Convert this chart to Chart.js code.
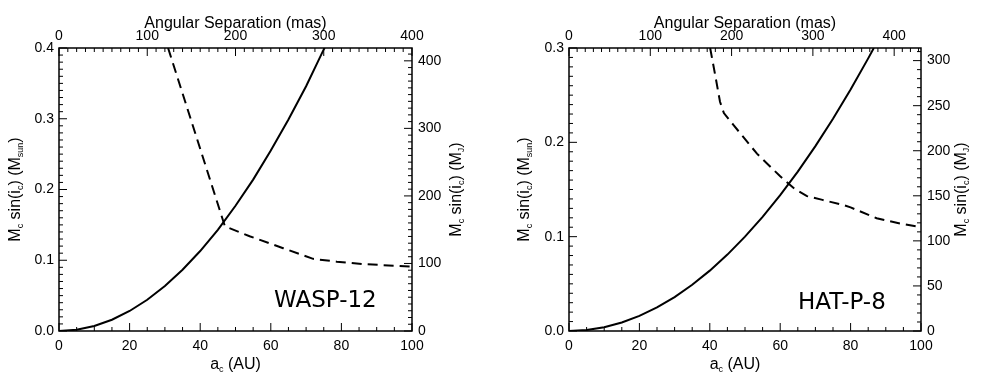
<!DOCTYPE html>
<html>
<head>
<meta charset="utf-8">
<script src="https://cdn.jsdelivr.net/npm/chart.js@4/dist/chart.umd.min.js"></script>
<style>
  body { margin: 0; background: #fff; }
  #wrap { position: relative; width: 982px; height: 388px; }
  canvas { position: absolute; top: 0; }
</style>
</head>
<body>
<div id="wrap">
  <canvas id="cWasp" width="491" height="388" style="left:0"></canvas>
  <canvas id="cHat" width="491" height="388" style="left:491px"></canvas>
</div>
<script>
// WASP-12 : solid = mass limit, dashed = detection limit
const waspSolidAu   = [0, 5, 10, 15, 20, 25, 30, 35, 40, 45, 50, 55, 60, 65, 70, 75, 75.3];
const waspSolidMass = [0, 0.0018, 0.0071, 0.0159, 0.0283, 0.0442, 0.0636, 0.0866, 0.113, 0.143, 0.177, 0.214, 0.255, 0.299, 0.346, 0.398, 0.40];
const waspDashAu    = [30.9, 47.0, 54.0, 63.5, 72.0, 78.7, 86.0, 100];
const waspDashMass  = [0.40, 0.148, 0.134, 0.117, 0.102, 0.098, 0.0946, 0.091];

// HAT-P-8
const hatSolidAu   = [0, 5, 10, 15, 20, 25, 30, 35, 40, 45, 50, 55, 60, 65, 70, 75, 80, 85, 86.6];
const hatSolidMass = [0, 0.001, 0.004, 0.009, 0.016, 0.025, 0.036, 0.049, 0.064, 0.081, 0.100, 0.121, 0.144, 0.169, 0.196, 0.225, 0.256, 0.289, 0.30];
const hatDashAu    = [40.1, 41.6, 42.9, 44.0, 46.7, 53.4, 60.0, 64.0, 67.6, 72.0, 78.0, 80.0, 87.4, 94.0, 100];
const hatDashMass  = [0.30, 0.27, 0.243, 0.231, 0.2185, 0.188, 0.164, 0.151, 0.143, 0.139, 0.1335, 0.131, 0.1195, 0.114, 0.110];

// tick labels
const waspAuTicks   = [0, 20, 40, 60, 80, 100];
const waspMasTicks  = [0, 100, 200, 300, 400];
const waspMsunTicks = [0, 0.1, 0.2, 0.3, 0.4];
const waspMjTicks   = [0, 100, 200, 300, 400];
const hatAuTicks    = [0, 20, 40, 60, 80, 100];
const hatMasTicks   = [0, 100, 200, 300, 400];
const hatMsunTicks  = [0, 0.1, 0.2, 0.3];
const hatMjTicks    = [0, 50, 100, 150, 200, 250, 300];

const FONT = '"Liberation Sans", Arial, sans-serif';

function pts(xs, ys) {
  return xs.map((x, i) => ({ x: x, y: ys[i] }));
}

// text with subscripts, parts = [[text, isSub], ...]
function drawSubText(ctx, parts, x, y, rotate) {
  const big = '16px ' + FONT, small = '9px ' + FONT;
  let w = 0;
  parts.forEach(([t, sub]) => { ctx.font = sub ? small : big; w += ctx.measureText(t).width; });
  ctx.save();
  ctx.translate(x, y);
  if (rotate) ctx.rotate(-Math.PI / 2);
  ctx.fillStyle = '#000';
  ctx.textAlign = 'left';
  ctx.textBaseline = 'alphabetic';
  let cx = -w / 2;
  parts.forEach(([t, sub]) => {
    ctx.font = sub ? small : big;
    ctx.fillText(t, cx, sub ? 3 : 0);
    cx += ctx.measureText(t).width;
  });
  ctx.restore();
}

const yTitleSun = [['M', 0], ['c', 1], [' sin(i', 0], ['c', 1], [') (M', 0], ['sun', 1], [')', 0]];
const yTitleJ   = [['M', 0], ['c', 1], [' sin(i', 0], ['c', 1], [') (M', 0], ['J', 1], [')', 0]];
const xTitle    = [['a', 0], ['c', 1], [' (AU)', 0]];

function makePanel(id, p) {
  // minor / major steps of the inward ticks
  const tickSpec = { x: [5, 20], x2: [10, 100], y: [0.01, 0.1], y2: [10, p.mjMajor] };

  const framePlugin = {
    id: 'frame',
    afterDraw(chart) {
      const ctx = chart.ctx;
      const a = chart.chartArea;
      ctx.save();
      ctx.strokeStyle = '#000';
      ctx.lineWidth = 1.5;
      ctx.strokeRect(a.left, a.top, a.right - a.left, a.bottom - a.top);
      ctx.lineWidth = 1;
      Object.keys(tickSpec).forEach(k => {
        const s = chart.scales[k];
        const [minor, major] = tickSpec[k];
        const n = Math.round((s.max - s.min) / minor);
        for (let i = 0; i <= n; i++) {
          const v = s.min + i * minor;
          if (v > s.max + 1e-9) break;
          const isMajor = Math.abs(v / major - Math.round(v / major)) < 1e-6;
          const len = isMajor ? 8 : 4;
          const px = s.getPixelForValue(v);
          ctx.beginPath();
          if (k === 'x') { ctx.moveTo(px, a.bottom); ctx.lineTo(px, a.bottom - len); }
          else if (k === 'x2') { ctx.moveTo(px, a.top); ctx.lineTo(px, a.top + len); }
          else if (k === 'y') { ctx.moveTo(a.left, px); ctx.lineTo(a.left + len, px); }
          else { ctx.moveTo(a.right, px); ctx.lineTo(a.right - len, px); }
          ctx.stroke();
        }
      });
      const midY = (a.top + a.bottom) / 2;
      drawSubText(ctx, [['Angular Separation (mas)', 0]], (a.left + a.right) / 2, 27.5, false);
      drawSubText(ctx, xTitle, p.xTitleX, 369, false);
      drawSubText(ctx, yTitleSun, p.yTitleX, midY, true);
      drawSubText(ctx, yTitleJ, p.y2TitleX, midY, true);
      ctx.font = '23px "DejaVu Sans", sans-serif';
      ctx.fillStyle = '#000';
      ctx.textAlign = 'left';
      ctx.textBaseline = 'alphabetic';
      ctx.fillText(p.name, p.nameX, p.nameY);
      ctx.restore();
    }
  };

  const tickFont = { family: FONT, size: 14 };
  const setTicks = arr => scale => { scale.ticks = arr.map(v => ({ value: v })); };

  new Chart(document.getElementById(id), {
    type: 'scatter',
    data: {
      datasets: [{
        data: pts(p.solidAu, p.solidMass),
        showLine: true,
        borderColor: '#000',
        borderWidth: 2,
        pointRadius: 0,
        xAxisID: 'x', yAxisID: 'y'
      }, {
        data: pts(p.dashAu, p.dashMass),
        showLine: true,
        borderColor: '#000',
        borderWidth: 2,
        borderDash: [10, 6],
        pointRadius: 0,
        xAxisID: 'x', yAxisID: 'y'
      }]
    },
    options: {
      responsive: false,
      animation: false,
      layout: { padding: 0 },
      plugins: { legend: { display: false }, tooltip: { enabled: false } },
      scales: {
        x: {
          type: 'linear', position: 'bottom', min: 0, max: 100,
          grid: { display: false, drawTicks: false }, border: { display: false },
          afterBuildTicks: setTicks(p.auTicks),
          afterFit: s => { s.height = 57; },
          ticks: { font: tickFont, color: '#000', padding: 7, autoSkip: false, maxRotation: 0 }
        },
        x2: {
          type: 'linear', position: 'top', min: 0, max: p.masMax,
          grid: { display: false, drawTicks: false }, border: { display: false },
          afterBuildTicks: setTicks(p.masTicks),
          afterFit: s => { s.height = 48; },
          ticks: { font: tickFont, color: '#000', padding: 3, autoSkip: false, maxRotation: 0 }
        },
        y: {
          type: 'linear', position: 'left', min: 0, max: p.msunMax,
          grid: { display: false, drawTicks: false }, border: { display: false },
          afterBuildTicks: setTicks(p.msunTicks),
          afterFit: s => { s.width = p.leftW; },
          ticks: { font: tickFont, color: '#000', padding: 5, autoSkip: false,
                   callback: v => v.toFixed(1) }
        },
        y2: {
          type: 'linear', position: 'right', min: 0, max: p.mjMax,
          grid: { display: false, drawTicks: false }, border: { display: false },
          afterBuildTicks: setTicks(p.mjTicks),
          afterFit: s => { s.width = p.rightW; },
          ticks: { font: tickFont, color: '#000', padding: 6, autoSkip: false,
                   callback: v => String(v) }
        }
      }
    },
    plugins: [framePlugin]
  });
}

makePanel('cWasp', {
  solidAu: waspSolidAu, solidMass: waspSolidMass, dashAu: waspDashAu, dashMass: waspDashMass,
  auTicks: waspAuTicks, masTicks: waspMasTicks, msunTicks: waspMsunTicks, mjTicks: waspMjTicks,
  masMax: 400, msunMax: 0.4, mjMax: 419, mjMajor: 100,
  leftW: 59, rightW: 79,
  xTitleX: 235.5, yTitleX: 19.5, y2TitleX: 461,
  name: 'WASP-12', nameX: 274, nameY: 307
});

makePanel('cHat', {
  solidAu: hatSolidAu, solidMass: hatSolidMass, dashAu: hatDashAu, dashMass: hatDashMass,
  auTicks: hatAuTicks, masTicks: hatMasTicks, msunTicks: hatMsunTicks, mjTicks: hatMjTicks,
  masMax: 433, msunMax: 0.3, mjMax: 314, mjMajor: 50,
  leftW: 78, rightW: 61,
  xTitleX: 244, yTitleX: 37.7, y2TitleX: 475,
  name: 'HAT-P-8', nameX: 307, nameY: 309
});
</script>
</body>
</html>
